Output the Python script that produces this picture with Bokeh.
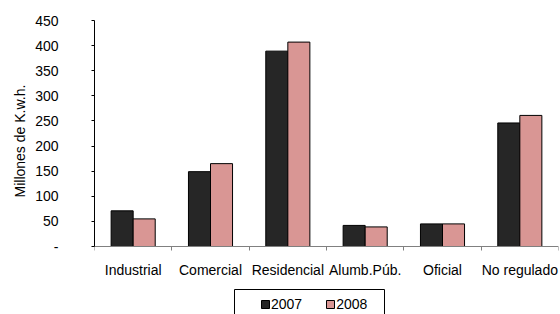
from bokeh.plotting import figure
from bokeh.models import (ColumnDataSource, Range1d, FixedTicker, Legend, LegendItem,
                          BoxAnnotation, Title)
from bokeh.transform import dodge
from bokeh.embed import file_html
from bokeh.resources import INLINE

categories = ["Industrial", "Comercial", "Residencial", "Alumb.Púb.", "Oficial", "No regulado"]
v2007 = [71, 149, 389, 42, 45, 246]
v2008 = [55, 165, 407, 39, 45, 261]
y_ticks = [0, 50, 100, 150, 200, 250, 300, 350, 400, 450]
series_names = ["2007", "2008"]
y_title = "Millones de K.w.h."

FONT = "Liberation Sans"
FS = "14px"
n = len(categories)
centers = [i + 0.5 for i in range(n)]
bounds = list(range(n + 1))

# frame spans from y=450 (top) down to the canvas bottom; value 0 sits 68px above it
y_top = 450
px_per_unit = 226 / y_top
y_bottom = -68 / px_per_unit

src = ColumnDataSource(dict(x=centers, a=v2007, b=v2008))

p = figure(width=560, height=314, output_backend="svg", toolbar_location=None,
           x_range=Range1d(0, n), y_range=Range1d(y_bottom, y_top),
           min_border_left=94, min_border_right=2, min_border_top=20, min_border_bottom=0)
p.outline_line_color = None
p.xgrid.visible = False
p.ygrid.visible = False

bw = 0.285
r1 = p.vbar(x=dodge("x", -bw / 2, range=p.x_range), top="a", bottom=0, width=bw, source=src,
            fill_color="#262626", line_color="black", line_width=1)
r2 = p.vbar(x=dodge("x", bw / 2, range=p.x_range), top="b", bottom=0, width=bw, source=src,
            fill_color="#D99694", line_color="black", line_width=1)

# x axis drawn at value 0
xa = p.xaxis[0]
xa.fixed_location = 0
xa.ticker = FixedTicker(ticks=centers, minor_ticks=bounds)
xa.major_label_overrides = {c: t for c, t in zip(centers, categories)}
xa.major_tick_line_color = None
xa.major_tick_out = 0
xa.major_tick_in = 0
xa.minor_tick_out = 4
xa.minor_tick_in = 0
xa.minor_tick_line_color = "#808080"
xa.axis_line_color = "#808080"
xa.major_label_text_font = FONT
xa.major_label_text_font_size = FS
xa.major_label_text_color = "black"
xa.major_label_standoff = 11

# y axis
ya = p.yaxis[0]
ya.bounds = (0, y_top)
ya.ticker = FixedTicker(ticks=y_ticks, minor_ticks=[])
ya.major_label_overrides = {0: "-"}
ya.major_tick_out = 3
ya.major_tick_in = 0
ya.major_tick_line_color = "black"
ya.axis_line_color = "black"
ya.major_label_text_font = FONT
ya.major_label_text_font_size = FS
ya.major_label_text_color = "black"
ya.major_label_standoff = 33

# y axis title, placed along the value range rather than the whole frame
p.add_layout(Title(text=y_title, align="left", offset=117, standoff=9,
                   text_font=FONT, text_font_size=FS, text_font_style="normal",
                   text_color="black"), "left")

# legend frame
box = BoxAnnotation(left=140 / 464 * n, right=290 / 464 * n,
                    top=-43 / px_per_unit, bottom=y_bottom - 20,
                    fill_color=None, fill_alpha=0, line_color="black", line_alpha=1,
                    line_width=1)
p.add_layout(box)

legend = Legend(items=[LegendItem(label=series_names[0], renderers=[r1]),
                       LegendItem(label=series_names[1], renderers=[r2])],
                location=(166, 2), orientation="horizontal",
                glyph_width=10, glyph_height=10, label_standoff=1, spacing=23,
                label_height=15, padding=0, margin=0,
                border_line_color=None, background_fill_alpha=0,
                label_text_font=FONT, label_text_font_size=FS, label_text_color="black")
p.add_layout(legend, "center")

open("out.html", "w").write(file_html(p, INLINE))
